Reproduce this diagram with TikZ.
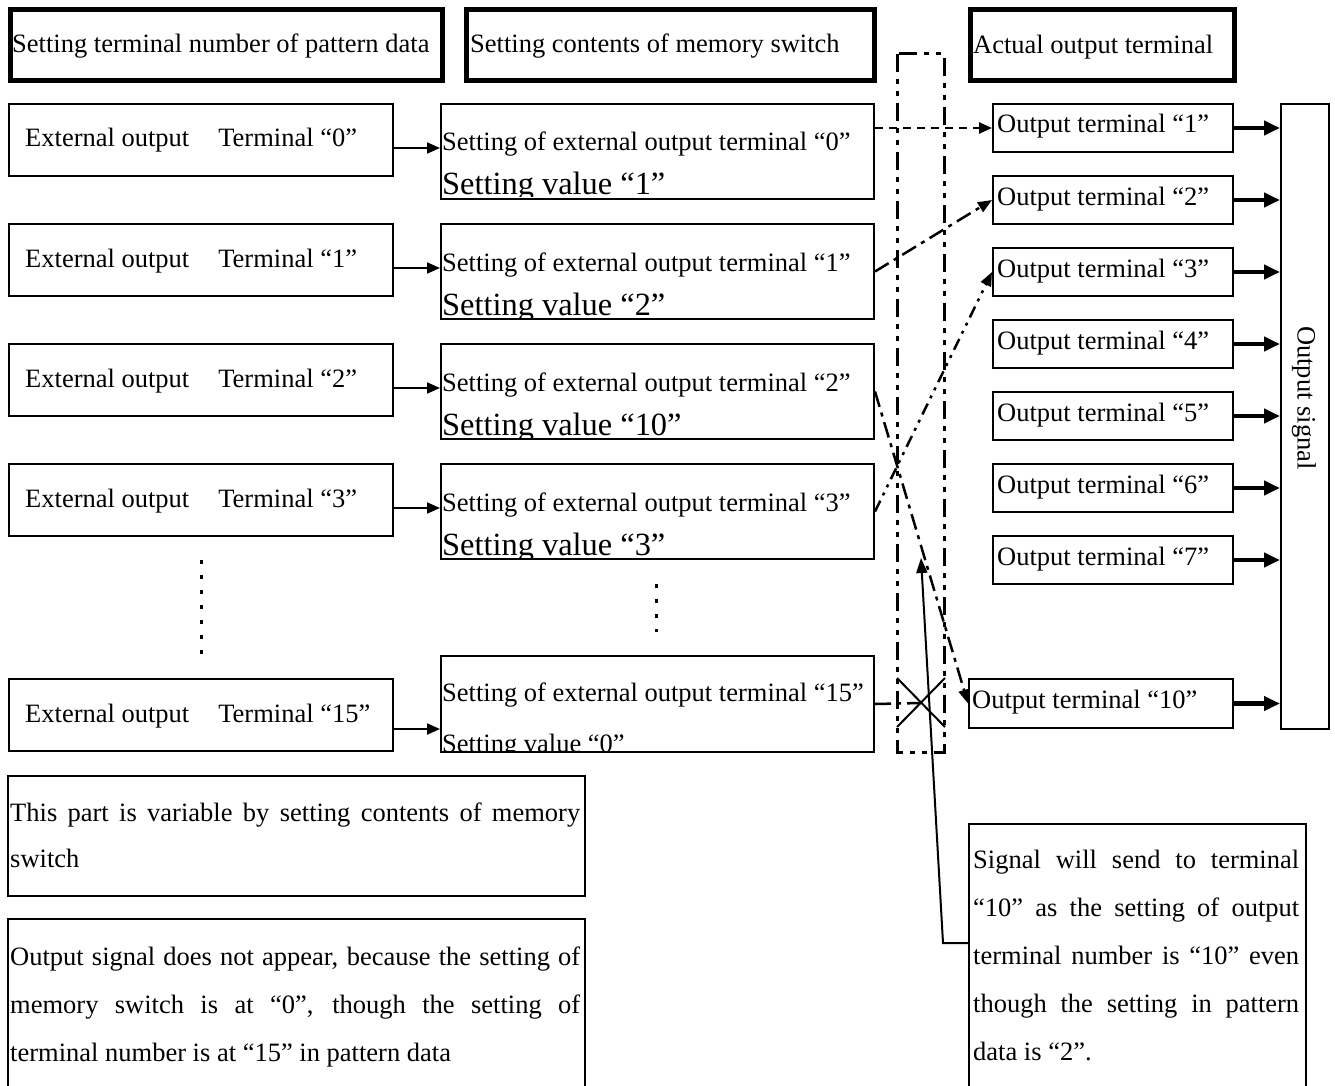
\documentclass[tikz,border=0pt]{standalone}
\usepackage{fontspec}
\setmainfont{Liberation Serif}
\usetikzlibrary{arrows.meta}
\newcommand\mainfs{\fontsize{26.5pt}{32pt}\selectfont}
\newcommand\bigfs{\fontsize{32.4pt}{38pt}\selectfont}
\begin{document}
\begin{tikzpicture}[x=1pt,y=-1pt,
  hdr/.style={draw, line width=5pt, inner sep=0pt, anchor=north west},
  box/.style={draw, line width=2pt, inner sep=0pt, anchor=north west},
  txt/.style={inner sep=0pt, anchor=base west, font=\mainfs},
  arr/.style={line width=2pt, -{Triangle[length=13pt,width=11pt]}},
  tarr/.style={line width=4.5pt, -{Triangle[length=16pt,width=14pt]}},
  dline/.style={line width=2.5pt, dash pattern=on 8pt off 6pt},
  ddline/.style={line width=2.5pt, dash pattern=on 16pt off 6pt on 4pt off 6pt},
  dddline/.style={line width=2.5pt, dash pattern=on 12pt off 6pt on 3pt off 6pt on 3pt off 6pt},
  rectdash/.style={line width=3pt, dash pattern=on 18pt off 7pt on 5pt off 7pt on 5pt off 7pt},
  dotline/.style={line width=3pt, dash pattern=on 4pt off 11pt}
]
\useasboundingbox (0,0) rectangle (1335,1086);

% headers
\node[hdr, minimum width=432.5pt, minimum height=70.5pt] (h1) at (7.5,7.5) {};
\node[txt] (h1t) at (12,53) {Setting terminal number of pattern data};
\node[hdr, minimum width=407.5pt, minimum height=70.5pt] (h2) at (464,7.5) {};
\node[txt] (h2t) at (470,53) {Setting contents of memory switch};
\node[hdr, minimum width=264pt, minimum height=70.5pt] (h3) at (968,7.5) {};
\node[txt] (h3t) at (973,54) {Actual output terminal};

% switch region
\draw[rectdash] (897,54) rectangle (944,752);

% rows 0-3
\foreach \k/\v in {0/1,1/2,2/10,3/3} {
  \pgfmathsetmacro\t{103+120*\k}
  \node[box, minimum width=384pt, minimum height=72pt] (l\k) at (8,\t) {};
  \node[txt] (lt\k) at (25,\t+44) {External output\hspace{29pt}Terminal “\k”};
  \node[box, minimum width=433pt, minimum height=95pt] (m\k) at (440,\t) {};
  \node[txt] (mt\k) at (442,\t+48) {Setting of external output terminal “\k”};
  \begin{scope}
    \clip (441,\t) rectangle (872,\t+94);
    \node[txt, font=\bigfs] (mv\k) at (442,\t+92) {Setting value “\v”};
  \end{scope}
  \draw[arr] ([yshift=-8pt]l\k.east) -- ([yshift=-8pt]l\k.east -| m\k.west);
}

% row 15
\node[box, minimum width=384pt, minimum height=72pt] (l15) at (8,678) {};
\node[txt] (lt15) at (25,722) {External output\hspace{29pt}Terminal “15”};
\node[box, minimum width=433pt, minimum height=96pt] (m15) at (440,655) {};
\node[txt] (mt15) at (442,701) {Setting of external output terminal “15”};
\begin{scope}
  \clip (441,655) rectangle (872,750);
  \node[txt] (mv15) at (442,752) {Setting value “0”};
\end{scope}
\draw[arr] ([yshift=-14pt]l15.east) -- ([yshift=-14pt]l15.east -| m15.west);

% dotted continuation marks
\draw[dotline] (201,560) -- (201,656);
\draw[dotline] (656,584) -- (656,632);

% output signal bar
\node[box, minimum width=48pt, minimum height=625pt] (sig) at (1280,103) {};
\node[inner sep=0pt, font=\mainfs, rotate=-90] (sigt) at (1304,398) {Output signal};

% output terminals
\foreach \i/\n in {0/1,1/2,2/3,3/4,4/5,5/6,6/7} {
  \pgfmathsetmacro\t{103+72*\i}
  \node[box, minimum width=240pt, minimum height=48pt] (o\n) at (992,\t) {};
  \node[txt] (ot\n) at (997,\t+30) {Output terminal “\n”};
  \draw[tarr] (o\n.east) -- (o\n.east -| sig.west);
}
\node[box, minimum width=264pt, minimum height=49pt] (o10) at (968,678) {};
\node[txt] (ot10) at (972,708) {Output terminal “10”};
\draw[tarr] (o10.east) -- (o10.east -| sig.west);

% mapping connectors
\draw[dline, -{Triangle[length=13pt,width=11pt]}] (m0.east |- o1.west) -- (o1.west);
\draw[ddline, -{Triangle[length=14pt,width=11pt]}] (m1.east) -- (o2.west);
\draw[dddline, -{Triangle[length=14pt,width=11pt]}] (m3.east) -- (o3.west);
\draw[ddline, -{Triangle[length=14pt,width=11pt]}] (m2.east) -- (o10.west);
\coordinate (xc) at (921,703);
\draw[ddline] (m15.east) -- (xc);
\draw[line width=2pt] (897,678) -- (945,727) (897,727) -- (945,678);

% callout
\node[box, minimum width=337pt, minimum height=280pt] (note) at (968,823) {};
\node[txt] (n1) at (973,868) {\makebox[326pt][s]{Signal will send to terminal}};
\node[txt] (n2) at (973,916) {\makebox[326pt][s]{“10” as the setting of output}};
\node[txt] (n3) at (973,964) {\makebox[326pt][s]{terminal number is “10” even}};
\node[txt] (n4) at (973,1012) {\makebox[326pt][s]{though the setting in pattern}};
\node[txt] (n5) at (973,1060) {data is “2”.};
\coordinate (cb) at (943,943);
\coordinate (ct) at (921,558);
\draw[line width=2pt, -{Triangle[length=15pt,width=11pt]}] (note.west |- cb) -- (cb) -- (ct);

% bottom-left notes
\node[box, minimum width=577pt, minimum height=120pt] (b1) at (7,775) {};
\node[txt] (b1a) at (10,821) {\makebox[570pt][s]{This part is variable by setting contents of memory}};
\node[txt] (b1b) at (10,867) {switch};
\node[box, minimum width=577pt, minimum height=180pt] (b2) at (7,918) {};
\node[txt] (b2a) at (10,965) {\makebox[570pt][s]{Output signal does not appear, because the setting of}};
\node[txt] (b2b) at (10,1013) {\makebox[570pt][s]{memory switch is at “0”, though the setting of}};
\node[txt] (b2c) at (10,1061) {terminal number is at “15” in pattern data};
\end{tikzpicture}
\end{document}
